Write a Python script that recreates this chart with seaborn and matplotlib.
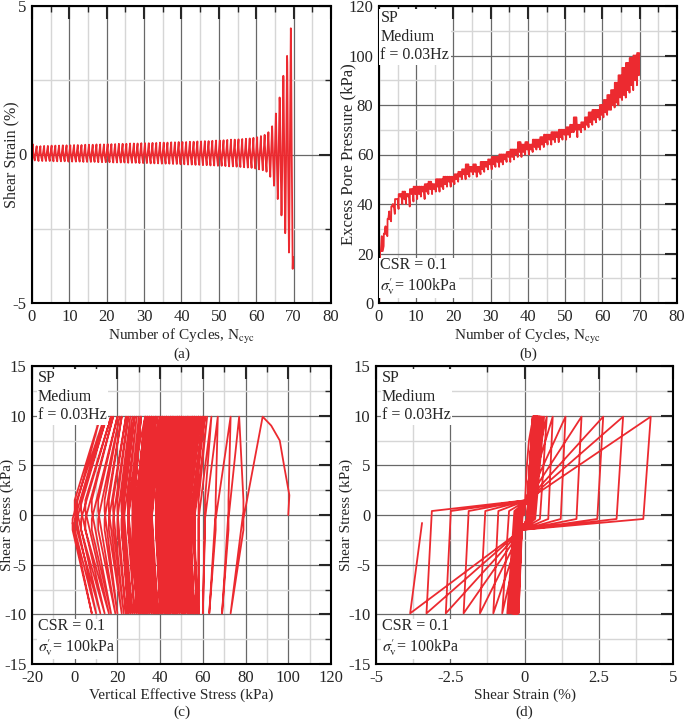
import numpy as np
import pandas as pd
import seaborn as sns
import matplotlib.pyplot as plt
from matplotlib.ticker import MultipleLocator, FormatStrFormatter

# values, one entry per loading cycle (0..69)
strain_pos = [0.34, 0.28, 0.28, 0.29, 0.29, 0.30, 0.30, 0.30, 0.31, 0.31,
              0.31, 0.32, 0.32, 0.32, 0.33, 0.33, 0.33, 0.34, 0.34, 0.34,
              0.35, 0.35, 0.35, 0.36, 0.36, 0.36, 0.37, 0.37, 0.37, 0.38,
              0.38, 0.38, 0.39, 0.39, 0.40, 0.40, 0.40, 0.41, 0.41, 0.42,
              0.42, 0.42, 0.43, 0.43, 0.44, 0.44, 0.45, 0.45, 0.46, 0.47,
              0.47, 0.48, 0.49, 0.50, 0.50, 0.51, 0.52, 0.53, 0.54, 0.56,
              0.58, 0.62, 0.66, 0.75, 0.95, 1.38, 1.92, 2.65, 3.32, 4.25]
strain_neg = [-0.20, -0.22, -0.22, -0.22, -0.22, -0.23, -0.23, -0.23, -0.23, -0.24,
              -0.24, -0.24, -0.24, -0.25, -0.25, -0.25, -0.25, -0.26, -0.26, -0.26,
              -0.26, -0.27, -0.27, -0.27, -0.27, -0.28, -0.28, -0.28, -0.29, -0.29,
              -0.29, -0.30, -0.30, -0.30, -0.31, -0.31, -0.31, -0.32, -0.32, -0.33,
              -0.33, -0.34, -0.34, -0.35, -0.35, -0.36, -0.36, -0.37, -0.37, -0.38,
              -0.38, -0.39, -0.40, -0.40, -0.41, -0.42, -0.43, -0.44, -0.45, -0.47,
              -0.50, -0.53, -0.58, -0.75, -1.05, -1.50, -2.05, -2.65, -3.30, -3.85]
# strain once the shear stress has dropped back to about zero after each peak
knee_pos = [0.08, 0.09, 0.09, 0.10, 0.10, 0.10, 0.11, 0.11, 0.11, 0.11,
            0.12, 0.12, 0.12, 0.12, 0.12, 0.13, 0.13, 0.13, 0.13, 0.13,
            0.13, 0.14, 0.14, 0.14, 0.14, 0.14, 0.14, 0.15, 0.15, 0.15,
            0.15, 0.15, 0.15, 0.16, 0.16, 0.16, 0.16, 0.16, 0.17, 0.17,
            0.17, 0.17, 0.17, 0.18, 0.18, 0.18, 0.18, 0.19, 0.19, 0.19,
            0.19, 0.20, 0.20, 0.20, 0.21, 0.21, 0.22, 0.22, 0.23, 0.24,
            0.26, 0.30, 0.36, 0.52, 0.80, 1.22, 1.75, 2.45, 3.10, 4.00]
knee_neg = [-0.06, -0.07, -0.07, -0.08, -0.08, -0.08, -0.09, -0.09, -0.09, -0.09,
            -0.10, -0.10, -0.10, -0.10, -0.10, -0.11, -0.11, -0.11, -0.11, -0.11,
            -0.11, -0.12, -0.12, -0.12, -0.12, -0.12, -0.12, -0.13, -0.13, -0.13,
            -0.13, -0.13, -0.13, -0.14, -0.14, -0.14, -0.14, -0.14, -0.15, -0.15,
            -0.15, -0.15, -0.15, -0.16, -0.16, -0.16, -0.16, -0.17, -0.17, -0.17,
            -0.17, -0.18, -0.18, -0.18, -0.19, -0.19, -0.20, -0.20, -0.21, -0.22,
            -0.24, -0.28, -0.34, -0.52, -0.88, -1.32, -1.88, -2.48, -3.12, -3.45]
# excess pore pressure (kPa) at + peak, - peak and at shear stress reversal
u_top = [12, 23, 27, 33, 36, 38, 40, 40, 39, 41,
         42, 43, 42, 44, 44, 45, 45, 46, 47, 47,
         48, 49, 50, 50, 51, 52, 51, 52, 53, 54,
         54, 55, 55, 56, 57, 57, 58, 59, 59, 60,
         60, 61, 62, 62, 63, 64, 64, 65, 65, 66,
         66, 67, 69, 67, 69, 70, 71, 72, 73, 74,
         75, 76, 78, 79, 80, 82, 83, 85, 86, 88]
u_bot = [27, 31, 37, 40, 42, 43, 42, 43, 44, 44,
         44, 45, 45, 46, 46, 47, 47, 48, 49, 49,
         50, 51, 52, 52, 53, 53, 53, 54, 55, 56,
         56, 57, 57, 58, 59, 59, 60, 61, 61, 62,
         62, 63, 63, 64, 65, 66, 66, 67, 67, 68,
         68, 69, 70, 70, 71, 72, 73, 74, 75, 76,
         77, 78, 80, 81, 83, 84, 86, 88, 90, 92]
u_zero = [21, 28, 34, 39, 42, 44, 45, 44, 46, 47,
          47, 47, 48, 49, 48, 50, 50, 51, 51, 51,
          52, 53, 54, 56, 55, 56, 55, 57, 57, 58,
          59, 59, 60, 60, 61, 62, 62, 65, 64, 65,
          64, 66, 66, 67, 68, 68, 69, 69, 70, 70,
          71, 72, 75, 72, 73, 75, 77, 78, 78, 80,
          82, 84, 86, 89, 92, 95, 97, 99, 100, 101]

# first quarter cycle, monotonic loading from the start
init_n = [0.0, 0.04, 0.09, 0.14, 0.2]
init_sig = [100.0, 100.5, 98.0, 96.0, 92.0]
init_tau = [0.0, 2.0, 5.0, 7.5, 9.0]
init_strain = [0.0, 0.03, 0.08, 0.15, 0.24]

sig_v0 = 100.0
tau_amp = 9.9
tau_knee = 0.4
tau_core = 1.5
strain_core = 0.1
tau_end = -0.8

rows = [(n, t, g, sig_v0 - s) for n, t, g, s in zip(init_n, init_tau, init_strain, init_sig)]
ncyc = len(strain_pos)
for i in range(ncyc):
    rows.append((i + 0.25, tau_amp, strain_pos[i], u_top[i]))
    rows.append((i + 0.3, -tau_knee, knee_pos[i], u_zero[i]))
    rows.append((i + 0.5, -tau_core, -strain_core, u_zero[i]))
    rows.append((i + 0.75, -tau_amp, strain_neg[i], u_bot[i]))
    if i < ncyc - 1:
        rows.append((i + 0.8, tau_knee, knee_neg[i], u_zero[i]))
        rows.append((i + 1.0, tau_core, strain_core, u_zero[i]))
    else:
        rows.append((i + 0.85, tau_end, knee_neg[i], u_zero[i]))
df = pd.DataFrame(rows, columns=['N', 'tau', 'strain', 'u'])
df['sig'] = sig_v0 - df['u']

sns.set_style('white')
plt.rcParams['font.family'] = ['Liberation Serif', 'DejaVu Serif']
plt.rcParams['mathtext.fontset'] = 'stix'
plt.rcParams['axes.unicode_minus'] = False

RED = '#ec2a30'
W, H = 685, 721
fig = plt.figure(figsize=(6.85, 7.21), dpi=100)

def box(l, t, r, b):
    return [l / W, 1 - b / H, (r - l) / W, (b - t) / H]

axA = fig.add_axes(box(32, 6, 331, 303))
axB = fig.add_axes(box(379, 6, 677, 303))
axC = fig.add_axes(box(32, 366, 331, 664))
axD = fig.add_axes(box(376, 366, 673, 664))

sns.lineplot(data=df, x='N', y='strain', ax=axA, color=RED, lw=1.3, estimator=None, sort=False)
sns.lineplot(data=df, x='N', y='u', ax=axB, color=RED, lw=1.3, estimator=None, sort=False)
sns.lineplot(data=df, x='sig', y='tau', ax=axC, color=RED, lw=1.3, estimator=None, sort=False)
sns.lineplot(data=df, x='strain', y='tau', ax=axD, color=RED, lw=1.3, estimator=None, sort=False)

def style(ax, xlim, ylim, xs, ys):
    ax.set_xlim(xlim)
    ax.set_ylim(ylim)
    ax.xaxis.set_major_locator(MultipleLocator(xs))
    ax.xaxis.set_minor_locator(MultipleLocator(xs / 2))
    ax.yaxis.set_major_locator(MultipleLocator(ys))
    ax.yaxis.set_minor_locator(MultipleLocator(ys / 2))
    ax.xaxis.set_major_formatter(FormatStrFormatter('%g'))
    ax.yaxis.set_major_formatter(FormatStrFormatter('%g'))
    ax.set_axisbelow(True)
    ax.grid(which='major', color='#686868', lw=0.9)
    ax.grid(which='minor', color='#d6d6d6', lw=1.0)
    ax.tick_params(which='both', direction='in', top=True, right=True, labelsize=12, pad=4)
    ax.tick_params(which='major', length=9, width=1.5)
    ax.tick_params(which='minor', length=4, width=1.0)
    for s in ax.spines.values():
        s.set_linewidth(1.5)
        s.set_color('black')

style(axA, (0, 80), (-5, 5), 10, 5)
style(axB, (0, 80), (0, 120), 10, 20)
style(axC, (-20, 120), (-15, 15), 20, 5)
style(axD, (-5, 5), (-15, 15), 2.5, 5)

ncyc_lab = 'Number of Cycles, N$_{\\rm cyc}$'
axA.set_xlabel(ncyc_lab, fontsize=11, labelpad=2)
axB.set_xlabel(ncyc_lab, fontsize=11, labelpad=2)
axC.set_xlabel('Vertical Effective Stress (kPa)', fontsize=11, labelpad=2)
axD.set_xlabel('Shear Strain (%)', fontsize=11, labelpad=2)
axA.set_ylabel('Shear Strain (%)', fontsize=11.5)
axB.set_ylabel('Excess Pore Pressure (kPa)', fontsize=12)
axC.set_ylabel('Shear Stress (kPa)', fontsize=11)
axD.set_ylabel('Shear Stress (kPa)', fontsize=11)
axA.yaxis.set_label_coords(-0.043, 0.5)
axB.yaxis.set_label_coords(-0.075, 0.5)
axC.yaxis.set_label_coords(-0.06, 0.5)
axD.yaxis.set_label_coords(-0.078, 0.5)

for ax, tag, y in [(axA, '(a)', 354), (axB, '(b)', 354), (axC, '(c)', 712), (axD, '(d)', 712)]:
    pos = ax.get_position()
    fig.text((pos.x0 + pos.x1) / 2, 1 - y / H, tag, ha='center', va='center', fontsize=11)

top_txt = 'SP\nMedium\nf = 0.03Hz'
bot_txt = 'CSR = 0.1\n$\\sigma^{\\prime}_{\\rm v}$= 100kPa'
for ax, dx in [(axB, 0.005), (axC, 0.02), (axD, 0.02)]:
    ax.text(dx, 0.985, top_txt, transform=ax.transAxes, ha='left', va='top', fontsize=11.5,
            linespacing=1.2, bbox=dict(fc='white', ec='none', pad=1.0))
    ax.text(dx, 0.02, bot_txt, transform=ax.transAxes, ha='left', va='bottom', fontsize=11.5,
            linespacing=1.2, bbox=dict(fc='white', ec='none', pad=1.0))

fig.savefig('out.png', dpi=100)
